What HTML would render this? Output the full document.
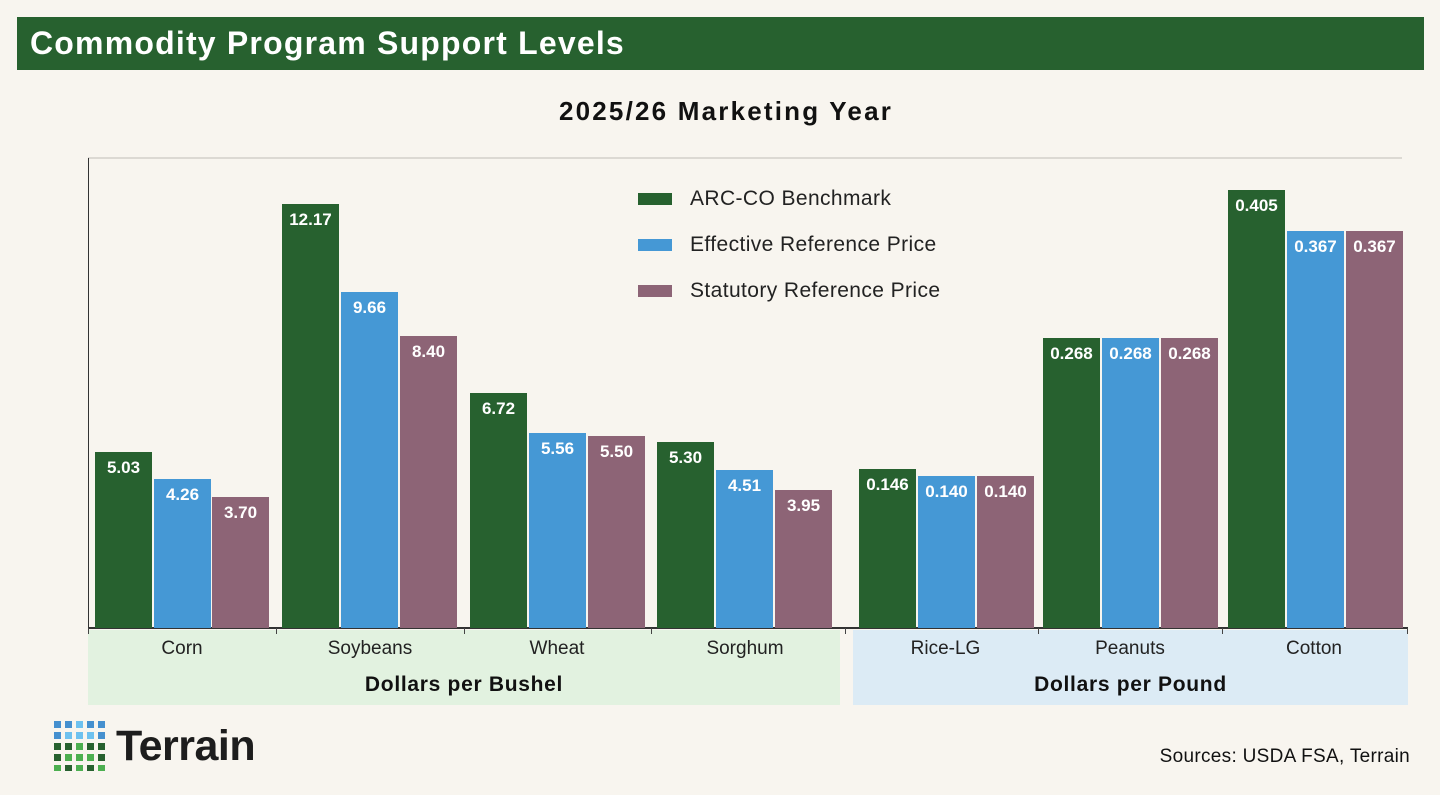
<!DOCTYPE html>
<html><head><meta charset="utf-8"><style>
body{margin:0;width:1440px;height:795px;background:#f8f5ef;font-family:"Liberation Sans",sans-serif;overflow:hidden;position:relative}
.a{position:absolute}
.hdr{left:17px;top:17px;width:1407px;height:53px;background:#27612f;color:#fff;font-weight:bold;font-size:32px;letter-spacing:1.2px;line-height:53px;padding-left:13px;box-sizing:border-box}
.bar{position:absolute;width:57px}
.lb{position:absolute;width:100%;text-align:center;top:6px;color:#fff;font-weight:bold;font-size:17px}
.g{background:#27612f}.b{background:#4598d5}.p{background:#8d6476}
.cat{position:absolute;top:638px;font-size:19px;color:#222;text-align:center;width:188px}
.unit{position:absolute;top:673px;font-size:21px;font-weight:bold;color:#111;text-align:center;letter-spacing:0.7px}
.sw{position:absolute;left:638px;width:34px;height:12px}
.lt{position:absolute;left:690px;font-size:21px;color:#222;letter-spacing:0.4px}
.tk{position:absolute;top:628px;width:1px;height:6px;background:#444}
</style></head><body>
<div class="a hdr">Commodity Program Support Levels</div>
<div class="a" style="left:0;width:1452px;top:96px;text-align:center;font-size:26px;font-weight:bold;color:#111;letter-spacing:2.2px">2025/26 Marketing Year</div>
<div class="a" style="left:88px;top:157px;width:1314px;height:2px;background:#dcd9d3"></div>
<div class="a" style="left:88px;top:158px;width:1px;height:470px;background:#333"></div>
<div class="a" style="left:88px;top:630px;width:752px;height:75px;background:#e2f2e0"></div>
<div class="a" style="left:853px;top:630px;width:555px;height:75px;background:#dcebf5"></div>
<div class="a" style="left:88px;top:627px;width:1320px;height:2px;background:#333"></div>
<div class="tk" style="left:88px"></div><div class="tk" style="left:276px"></div><div class="tk" style="left:464px"></div><div class="tk" style="left:651px"></div><div class="tk" style="left:845px"></div><div class="tk" style="left:1038px"></div><div class="tk" style="left:1222px"></div><div class="tk" style="left:1407px"></div>

<div class="bar g" style="left:95px;top:452px;height:176px"><div class="lb">5.03</div></div>
<div class="bar b" style="left:154px;top:479px;height:149px"><div class="lb">4.26</div></div>
<div class="bar p" style="left:212px;top:497px;height:131px"><div class="lb">3.70</div></div>
<div class="bar g" style="left:282px;top:204px;height:424px"><div class="lb">12.17</div></div>
<div class="bar b" style="left:341px;top:292px;height:336px"><div class="lb">9.66</div></div>
<div class="bar p" style="left:400px;top:336px;height:292px"><div class="lb">8.40</div></div>
<div class="bar g" style="left:470px;top:393px;height:235px"><div class="lb">6.72</div></div>
<div class="bar b" style="left:529px;top:433px;height:195px"><div class="lb">5.56</div></div>
<div class="bar p" style="left:588px;top:436px;height:192px"><div class="lb">5.50</div></div>
<div class="bar g" style="left:657px;top:442px;height:186px"><div class="lb">5.30</div></div>
<div class="bar b" style="left:716px;top:470px;height:158px"><div class="lb">4.51</div></div>
<div class="bar p" style="left:775px;top:490px;height:138px"><div class="lb">3.95</div></div>
<div class="bar g" style="left:859px;top:469px;height:159px"><div class="lb">0.146</div></div>
<div class="bar b" style="left:918px;top:476px;height:152px"><div class="lb">0.140</div></div>
<div class="bar p" style="left:977px;top:476px;height:152px"><div class="lb">0.140</div></div>
<div class="bar g" style="left:1043px;top:338px;height:290px"><div class="lb">0.268</div></div>
<div class="bar b" style="left:1102px;top:338px;height:290px"><div class="lb">0.268</div></div>
<div class="bar p" style="left:1161px;top:338px;height:290px"><div class="lb">0.268</div></div>
<div class="bar g" style="left:1228px;top:190px;height:438px"><div class="lb">0.405</div></div>
<div class="bar b" style="left:1287px;top:231px;height:397px"><div class="lb">0.367</div></div>
<div class="bar p" style="left:1346px;top:231px;height:397px"><div class="lb">0.367</div></div>

<div class="sw g" style="top:193px"></div><div class="lt" style="top:187px">ARC-CO Benchmark</div>
<div class="sw b" style="top:239px"></div><div class="lt" style="top:233px">Effective Reference Price</div>
<div class="sw p" style="top:285px"></div><div class="lt" style="top:279px">Statutory Reference Price</div>

<div class="cat" style="left:88px">Corn</div>
<div class="cat" style="left:276px">Soybeans</div>
<div class="cat" style="left:463px">Wheat</div>
<div class="cat" style="left:651px">Sorghum</div>
<div class="cat" style="left:853px;width:185px">Rice-LG</div>
<div class="cat" style="left:1038px;width:184px">Peanuts</div>
<div class="cat" style="left:1222px;width:184px">Cotton</div>
<div class="unit" style="left:88px;width:752px">Dollars per Bushel</div>
<div class="unit" style="left:853px;width:555px">Dollars per Pound</div>

<svg class="a" style="left:54px;top:721px" width="52" height="50">
<g>
<rect x="0" y="0" width="7" height="7" fill="#4590cf"/><rect x="11" y="0" width="7" height="7" fill="#4590cf"/><rect x="22" y="0" width="7" height="7" fill="#6ec1ef"/><rect x="33" y="0" width="7" height="7" fill="#4590cf"/><rect x="44" y="0" width="7" height="7" fill="#4590cf"/>
<rect x="0" y="11" width="7" height="7" fill="#4590cf"/><rect x="11" y="11" width="7" height="7" fill="#6ec1ef"/><rect x="22" y="11" width="7" height="7" fill="#6ec1ef"/><rect x="33" y="11" width="7" height="7" fill="#6ec1ef"/><rect x="44" y="11" width="7" height="7" fill="#4590cf"/>
<rect x="0" y="22" width="7" height="7" fill="#27612f"/><rect x="11" y="22" width="7" height="7" fill="#27612f"/><rect x="22" y="22" width="7" height="7" fill="#4caf50"/><rect x="33" y="22" width="7" height="7" fill="#27612f"/><rect x="44" y="22" width="7" height="7" fill="#27612f"/>
<rect x="0" y="33" width="7" height="7" fill="#27612f"/><rect x="11" y="33" width="7" height="7" fill="#4caf50"/><rect x="22" y="33" width="7" height="7" fill="#4caf50"/><rect x="33" y="33" width="7" height="7" fill="#4caf50"/><rect x="44" y="33" width="7" height="7" fill="#27612f"/>
<rect x="0" y="44" width="7" height="6" fill="#4caf50"/><rect x="11" y="44" width="7" height="6" fill="#27612f"/><rect x="22" y="44" width="7" height="6" fill="#4caf50"/><rect x="33" y="44" width="7" height="6" fill="#27612f"/><rect x="44" y="44" width="7" height="6" fill="#4caf50"/>
</g></svg>
<div class="a" style="left:116px;top:722px;font-size:43px;font-weight:bold;color:#1d1d1d;letter-spacing:-0.5px">Terrain</div>
<div class="a" style="right:30px;top:746px;font-size:19px;color:#111;letter-spacing:0.3px">Sources: USDA FSA, Terrain</div>
</body></html>
